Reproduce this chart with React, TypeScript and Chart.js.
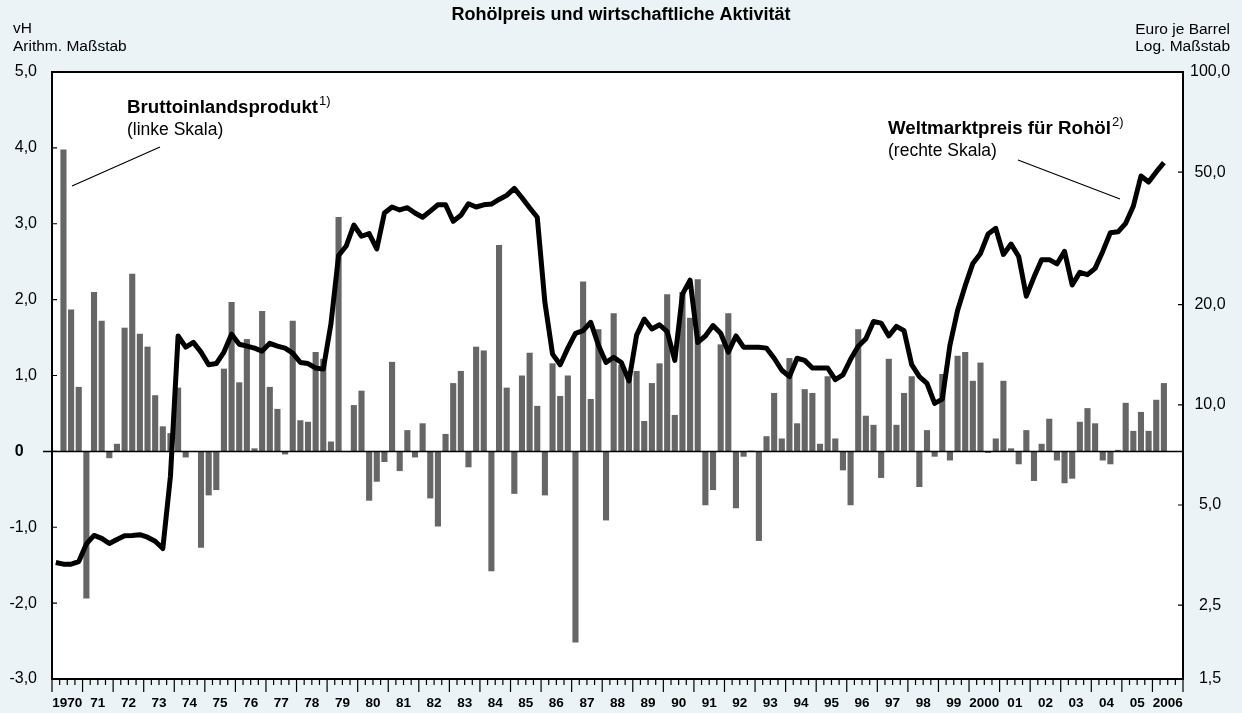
import React, { useEffect, useRef } from 'react';
import { Chart, registerables } from 'chart.js';

Chart.register(...registerables);

const FONT = "'Liberation Sans', Arial, Helvetica, sans-serif";
const BG = '#ecf3f7';

// Year labels on the x axis (1970 ... 2006), four quarters each
const yearLabels = [
  '1970', '71', '72', '73', '74', '75', '76', '77', '78', '79',
  '80', '81', '82', '83', '84', '85', '86', '87', '88', '89',
  '90', '91', '92', '93', '94', '95', '96', '97', '98', '99',
  '2000', '01', '02', '03', '04', '05', '2006',
];
const quartersPerYear = 4;

// Bruttoinlandsprodukt, Veränderung gegenüber Vorquartal in vH (1970 Q1 ... 2006 Q2)
const gdpGrowth: (number | null)[] = [
  null, 3.98, 1.87, 0.85,
  -1.94, 2.1, 1.72, -0.09,
  0.1, 1.63, 2.34, 1.55,
  1.38, 0.74, 0.33, 0.24,
  0.84, -0.08, 0.0, -1.27,
  -0.58, -0.51, 1.09, 1.97,
  0.91, 1.48, 0.04, 1.85,
  0.85, 0.56, -0.04, 1.72,
  0.41, 0.39, 1.31, 1.22,
  0.13, 3.09, 0.0, 0.61,
  0.8, -0.65, -0.4, -0.14,
  1.18, -0.26, 0.28, -0.08,
  0.37, -0.62, -0.99, 0.23,
  0.9, 1.06, -0.21, 1.38,
  1.33, -1.58, 2.72, 0.84,
  -0.56, 1.0, 1.3, 0.6,
  -0.58, 1.16, 0.73, 1.0,
  -2.52, 2.24, 0.69, 1.61,
  -0.91, 1.82, 1.14, 1.05,
  1.06, 0.4, 0.9, 1.16,
  2.07, 0.48, 2.1, 1.76,
  2.27, -0.71, -0.51, 1.41,
  1.82, -0.75, -0.07, 0.01,
  -1.18, 0.2, 0.77, 0.17,
  1.23, 0.37, 0.82, 0.77,
  0.1, 0.99, 0.17, -0.25,
  -0.71, 1.61, 0.47, 0.35,
  -0.35, 1.22, 0.35, 0.77,
  0.99, -0.47, 0.28, -0.07,
  1.02, -0.12, 1.26, 1.31,
  0.93, 1.17, -0.02, 0.17,
  0.93, 0.04, -0.17, 0.28,
  -0.39, 0.1, 0.43, -0.12,
  -0.42, -0.36, 0.39, 0.57,
  0.37, -0.12, -0.17, 0.02,
  0.64, 0.27, 0.52, 0.27,
  0.68, 0.9,
];

// Weltmarktpreis für Rohöl, Euro je Barrel (1970 Q1 ... 2006 Q2)
const oilPrice: number[] = [
  3.36, 3.32, 3.32, 3.38,
  3.82, 4.05, 3.97, 3.83,
  3.94, 4.04, 4.05, 4.07,
  4.0, 3.89, 3.7, 6.1,
  16.1, 14.9, 15.4, 14.4,
  13.2, 13.3, 14.4, 16.3,
  15.2, 15.0, 14.8, 14.5,
  15.3, 15.0, 14.8, 14.3,
  13.4, 13.3, 12.9, 12.8,
  17.5, 28.1, 30.0, 34.7,
  32.1, 32.7, 29.4, 37.7,
  39.3, 38.5, 39.1, 37.7,
  36.6, 38.2, 39.9, 39.9,
  35.6, 37.1, 40.2, 39.3,
  39.9, 40.1, 41.4, 42.6,
  44.7, 41.9, 39.1, 36.6,
  20.3, 14.2, 13.2, 14.8,
  16.4, 16.7, 17.7, 15.1,
  13.4, 13.9, 13.4, 11.8,
  16.2, 18.1, 16.9, 17.4,
  16.6, 13.6, 21.5, 23.7,
  15.4, 16.1, 17.3, 16.4,
  14.4, 16.1, 14.9, 14.9,
  14.9, 14.8, 13.8, 12.7,
  12.15, 13.8, 13.6, 12.9,
  12.9, 12.9, 11.9, 12.3,
  13.7, 15.0, 15.8, 17.8,
  17.6, 16.1, 17.2, 16.7,
  13.2, 12.15, 11.6, 10.1,
  10.4, 15.1, 19.2, 22.8,
  26.6, 28.5, 32.6, 33.9,
  28.3, 30.4, 27.9, 21.2,
  24.2, 27.3, 27.3, 26.5,
  28.9, 22.9, 25.0, 24.6,
  25.7, 28.9, 32.9, 33.1,
  35.1, 39.5, 48.7, 46.7,
  50.1, 53.4,
];

const leftTickValues = [-3, -2, -1, 0, 1, 2, 3, 4, 5];
const rightTickValues = [1.5, 2.5, 5, 10, 20, 50, 100];

const fmt = (v: number) => v.toFixed(1).replace('.', ',');

const decorPlugin = {
  id: 'decor',
  beforeDraw(chart: any) {
    const { ctx, chartArea: a, width, height } = chart;
    ctx.save();
    ctx.fillStyle = BG;
    ctx.fillRect(0, 0, width, height);
    ctx.fillStyle = '#ffffff';
    ctx.fillRect(a.left, a.top, a.right - a.left, a.bottom - a.top);
    ctx.restore();
  },
  afterDatasetDraw(chart: any, args: any) {
    if (args.index !== 0) return;
    const { ctx, chartArea: a } = chart;
    const y0 = chart.scales.yL.getPixelForValue(0);
    ctx.save();
    ctx.strokeStyle = '#000';
    ctx.lineWidth = 1.5;
    ctx.beginPath();
    ctx.moveTo(a.left - 9, y0);
    ctx.lineTo(a.right, y0);
    ctx.stroke();
    ctx.restore();
  },
  afterDraw(chart: any) {
    const { ctx, chartArea: a, scales } = chart;
    ctx.save();
    // frame
    ctx.strokeStyle = '#000';
    ctx.lineWidth = 2;
    ctx.strokeRect(a.left, a.top, a.right - a.left, a.bottom - a.top);

    // inward ticks on y axes
    ctx.lineWidth = 1.2;
    ctx.beginPath();
    leftTickValues.forEach((v) => {
      const y = scales.yL.getPixelForValue(v);
      ctx.moveTo(a.left, y);
      ctx.lineTo(a.left + 5, y);
    });
    rightTickValues.forEach((v) => {
      const y = scales.yR.getPixelForValue(v);
      ctx.moveTo(a.right, y);
      ctx.lineTo(a.right - 5, y);
    });
    // x axis ticks below the frame (quarters short, years long)
    const nQ = yearLabels.length * quartersPerYear;
    for (let q = 0; q <= nQ; q++) {
      const x = scales.x.getPixelForValue(q);
      const len = q % quartersPerYear === 0 ? 13 : 6;
      ctx.moveTo(x, a.bottom);
      ctx.lineTo(x, a.bottom + len);
    }
    ctx.stroke();

    // header texts
    ctx.fillStyle = '#000';
    ctx.textBaseline = 'middle';
    ctx.font = `bold 18px ${FONT}`;
    ctx.textAlign = 'center';
    ctx.fillText('Rohölpreis und wirtschaftliche Aktivität', 621, 15);

    ctx.font = `15.5px ${FONT}`;
    ctx.textAlign = 'left';
    ctx.fillText('vH', 13, 29);
    ctx.fillText('Arithm. Maßstab', 13, 47);
    ctx.textAlign = 'right';
    ctx.fillText('Euro je Barrel', 1230, 30);
    ctx.fillText('Log. Maßstab', 1230, 47);

    // annotations
    const label = (x: number, y: number, bold: string, sup: string, sub: string) => {
      ctx.textAlign = 'left';
      ctx.font = `bold 18.7px ${FONT}`;
      ctx.fillText(bold, x, y);
      const w = ctx.measureText(bold).width;
      ctx.font = `13px ${FONT}`;
      ctx.fillText(sup, x + w + 1, y - 7);
      ctx.font = `17.5px ${FONT}`;
      ctx.fillText(sub, x, y + 22);
    };
    label(127, 108, 'Bruttoinlandsprodukt', '1)', '(linke Skala)');
    label(888, 129, 'Weltmarktpreis für Rohöl', '2)', '(rechte Skala)');

    ctx.lineWidth = 1.2;
    ctx.beginPath();
    ctx.moveTo(160, 147);
    ctx.lineTo(72, 186);
    ctx.moveTo(1018, 160);
    ctx.lineTo(1120, 199);
    ctx.stroke();
    ctx.restore();
  },
};

export default function App() {
  const canvasRef = useRef<HTMLCanvasElement | null>(null);

  useEffect(() => {
    const canvas = canvasRef.current;
    if (!canvas) return;
    const nQ = yearLabels.length * quartersPerYear;
    const barData = gdpGrowth.map((v, i) => ({ x: i + 0.5, y: v }));
    const lineData = oilPrice.map((v, i) => ({ x: i + 0.5, y: v }));

    const chart = new Chart(canvas, {
      type: 'bar',
      data: {
        datasets: [
          {
            type: 'bar',
            label: 'Bruttoinlandsprodukt',
            data: barData as any,
            xAxisID: 'x',
            yAxisID: 'yL',
            backgroundColor: '#666666',
            barPercentage: 0.8,
            categoryPercentage: 1,
            order: 2,
          },
          {
            type: 'line',
            label: 'Weltmarktpreis für Rohöl',
            data: lineData as any,
            xAxisID: 'x',
            yAxisID: 'yR',
            borderColor: '#000000',
            borderWidth: 5,
            pointRadius: 0,
            tension: 0,
            borderJoinStyle: 'round',
            borderCapStyle: 'butt',
            order: 1,
          } as any,
        ],
      },
      options: {
        responsive: false,
        animation: false,
        devicePixelRatio: 1,
        events: [],
        layout: { padding: { top: 72, left: 0, right: 0, bottom: 0 } },
        plugins: {
          legend: { display: false },
          tooltip: { enabled: false },
          title: { display: false },
        },
        scales: {
          x: {
            type: 'linear',
            position: 'bottom',
            min: 0,
            max: nQ,
            offset: false,
            grid: { display: false, drawTicks: false, offset: false },
            border: { display: false },
            afterBuildTicks: (s: any) => {
              s.ticks = yearLabels.map((_, k) => ({ value: k * quartersPerYear + 2 }));
            },
            afterFit: (s: any) => {
              s.height = 34;
            },
            ticks: {
              autoSkip: false,
              maxRotation: 0,
              padding: 16,
              color: '#000',
              font: { family: FONT, size: 13.5, weight: 'bold' },
              callback: (v: any) => yearLabels[Math.round((Number(v) - 2) / quartersPerYear)],
            },
          },
          yL: {
            type: 'linear',
            position: 'left',
            min: -3,
            max: 5,
            grid: { display: false, drawTicks: false },
            border: { display: false },
            afterBuildTicks: (s: any) => {
              s.ticks = leftTickValues.map((v) => ({ value: v }));
            },
            afterFit: (s: any) => {
              s.width = 52;
            },
            ticks: {
              padding: 15,
              color: '#000',
              font: (c: any) => ({
                family: FONT,
                size: 16,
                weight: c.tick && c.tick.value === 0 ? 'bold' : 'normal',
              }),
              callback: (v: any) => (Number(v) === 0 ? '0   ' : fmt(Number(v))),
            },
          },
          yR: {
            type: 'logarithmic',
            position: 'right',
            min: 1.5,
            max: 100,
            grid: { display: false, drawTicks: false },
            border: { display: false },
            afterBuildTicks: (s: any) => {
              s.ticks = rightTickValues.map((v) => ({ value: v }));
            },
            afterFit: (s: any) => {
              s.width = 59;
            },
            ticks: {
              padding: 7,
              crossAlign: 'center',
              color: '#000',
              font: { family: FONT, size: 16 },
              callback: (v: any) => fmt(Number(v)),
            },
          },
        },
      } as any,
      plugins: [decorPlugin],
    });

    return () => {
      chart.destroy();
    };
  }, []);

  return (
    <div
      style={{
        position: 'fixed',
        left: 0,
        top: 0,
        width: 1242,
        height: 713,
        background: BG,
        overflow: 'hidden',
      }}
    >
      <canvas ref={canvasRef} width={1242} height={713} style={{ display: 'block' }} />
    </div>
  );
}
